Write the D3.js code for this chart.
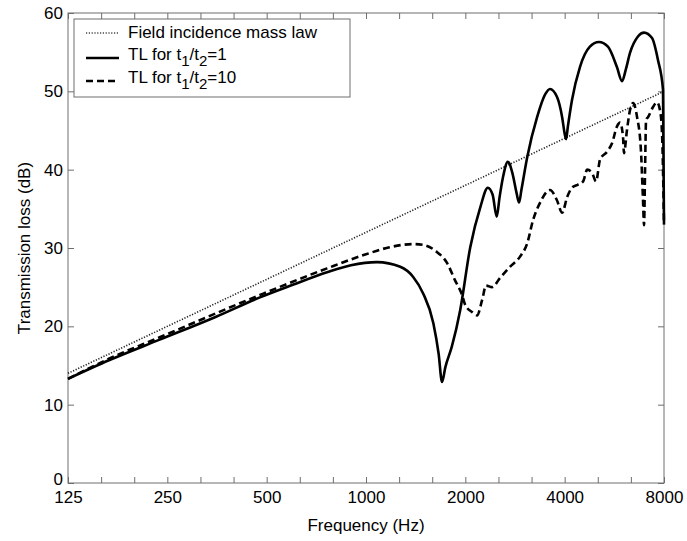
<!DOCTYPE html>
<html>
<head>
<meta charset="utf-8">
<script src="https://cdn.jsdelivr.net/npm/d3@7"></script>
<style>
  body { margin: 0; background: #fff; }
  svg { font-family: "Liberation Sans", Arial, sans-serif; }
</style>
</head>
<body>
<script>
// octave tick labels and 1/3-octave tick positions
const octaveLabels = ["125", "250", "500", "1000", "2000", "4000", "8000"];
const thirdOctaveTicks = d3.range(0, 19).map(k => 125 * Math.pow(2, k / 3));
const yTicks = [0, 10, 20, 30, 40, 50, 60];

// field incidence mass law
const massFreq = [125, 250, 500, 1000, 2000, 4000, 8000];
const massTL = [14, 20, 26, 32, 38, 44, 50];

// TL for t1/t2 = 1
const freq1 = [125, 167, 237, 350, 477, 600, 762, 900, 1080, 1270, 1390, 1490, 1600, 1660, 1700, 1740,
  1820, 1930, 2070, 2220, 2340, 2420, 2490, 2540, 2600, 2690, 2780, 2860, 2910, 2960, 3080, 3300,
  3490, 3610, 3790, 3930, 4000, 4040, 4090, 4210, 4450, 4770, 5080, 5410, 5760, 5970, 6130, 6310,
  6670, 6960, 7360, 7670, 7945, 8000];
const tl1 = [13.3, 15.7, 18.3, 21.2, 23.7, 25.3, 26.9, 27.8, 28.2, 27.6, 26.3, 24.2, 20.4, 16.5, 12.9, 14.8,
  17.4, 22.1, 30.1, 35.2, 37.7, 36.8, 34.0, 36.5, 39.0, 41.0, 39.5, 37.0, 35.8, 37.5, 41.6, 46.7,
  49.6, 50.3, 49.3, 46.7, 44.6, 43.9, 45.5, 48.9, 53.1, 55.7, 56.3, 55.7, 53.1, 51.3, 52.8, 54.9,
  57.0, 57.5, 56.8, 54.0, 50.2, 33.0];

// TL for t1/t2 = 10
const freq10 = [125, 167, 237, 477, 762, 1000, 1180, 1390, 1490, 1640, 1760, 1860, 1955, 2000, 2100, 2170,
  2250, 2310, 2410, 2550, 2730, 2930, 3080, 3210, 3370, 3610, 3790, 3930, 4070, 4210, 4390, 4550,
  4680, 4840, 4980, 5120, 5380, 5570, 5760, 5890, 6010, 6050, 6180, 6310, 6450, 6630, 6810, 6910,
  6960, 7010, 7060, 7155, 7410, 7620, 7780, 7890, 8000];
const tl10 = [13.3, 15.9, 18.6, 24.0, 27.4, 29.2, 30.1, 30.5, 30.4, 29.5, 28.1, 25.9, 24.0, 22.7, 21.8, 21.4,
  23.4, 25.2, 25.0, 26.2, 27.6, 28.9, 30.6, 33.6, 35.8, 37.4, 36.1, 34.5, 36.5, 37.7, 38.1, 38.5,
  40.0, 39.6, 38.5, 41.3, 42.3, 43.4, 45.5, 46.0, 44.2, 42.1, 45.1, 47.6, 48.5, 46.7, 42.5, 36.1,
  32.9, 40.0, 46.4, 46.7, 48.0, 48.6, 47.6, 44.7, 33.0];

var width = 687,
  height = 541;
var plotL = 68, plotR = 664, plotT = 13, plotB = 483;
const frameColor = "#6e6e6e";

var svg = d3.select("body").append("svg")
  .attr("width", width)
  .attr("height", height);

var xScale = d3.scaleLog().domain([125, 8000]).range([plotL, plotR]);
var yScale = d3.scaleLinear().domain([0, 60]).range([plotB, plotT]);

var fmtX = d => {
  var i = octaveLabels.indexOf(String(Math.round(d)));
  return i >= 0 ? octaveLabels[i] : "";
};

// frame
svg.append("rect")
  .attr("x", plotL).attr("y", plotT)
  .attr("width", plotR - plotL).attr("height", plotB - plotT)
  .attr("fill", "none").attr("stroke", frameColor).attr("stroke-width", 1);

var xAxis = svg.append("g")
  .attr("transform", `translate(0,${plotB})`)
  .call(d3.axisBottom(xScale).tickValues(thirdOctaveTicks).tickFormat(fmtX)
    .tickSizeInner(-6).tickSizeOuter(0).tickPadding(8));

var xAxisTop = svg.append("g")
  .attr("transform", `translate(0,${plotT})`)
  .call(d3.axisTop(xScale).tickValues(thirdOctaveTicks).tickFormat("")
    .tickSizeInner(-6).tickSizeOuter(0));

var yAxis = svg.append("g")
  .attr("transform", `translate(${plotL},0)`)
  .call(d3.axisLeft(yScale).tickValues(yTicks).tickFormat(d3.format("d"))
    .tickSizeInner(-6).tickSizeOuter(0).tickPadding(5));

var yAxisRight = svg.append("g")
  .attr("transform", `translate(${plotR},0)`)
  .call(d3.axisRight(yScale).tickValues(yTicks).tickFormat("")
    .tickSizeInner(-6).tickSizeOuter(0));

[xAxis, xAxisTop, yAxis, yAxisRight].forEach(g => {
  g.select(".domain").remove();
  g.selectAll(".tick line").attr("stroke", frameColor);
  g.selectAll("text").attr("fill", "#000").style("font-size", "17px")
    .style("font-family", '"Liberation Sans", Arial, sans-serif');
});

// lift the "0" label a little so it clears "125"
yAxis.selectAll(".tick text").filter(d => d === 0).attr("dy", "0.1em");

// curves
var line = d3.line()
  .x(d => xScale(d[0]))
  .y(d => yScale(d[1]))
  .curve(d3.curveMonotoneX);

svg.append("path")
  .datum(massFreq.map((f, i) => [f, massTL[i]]))
  .attr("d", d3.line().x(d => xScale(d[0])).y(d => yScale(d[1])))
  .attr("fill", "none")
  .attr("stroke", "#222")
  .attr("stroke-width", 1.6)
  .attr("stroke-dasharray", "1.2,1.6");

svg.append("path")
  .datum(freq10.map((f, i) => [f, tl10[i]]))
  .attr("d", line)
  .attr("fill", "none")
  .attr("stroke", "#000")
  .attr("stroke-width", 2.6)
  .attr("stroke-dasharray", "7,4");

svg.append("path")
  .datum(freq1.map((f, i) => [f, tl1[i]]))
  .attr("d", line)
  .attr("fill", "none")
  .attr("stroke", "#000")
  .attr("stroke-width", 2.6);

// legend
var legend = svg.append("g");
legend.append("rect")
  .attr("x", 74).attr("y", 19)
  .attr("width", 276).attr("height", 78)
  .attr("fill", "#fff")
  .attr("stroke", frameColor)
  .attr("stroke-width", 1);

var items = [
  { y: 33, dash: "1.2,1.6", w: 1.4, color: "#444", label: "Field incidence mass law", base: 38 },
  { y: 58, dash: null, w: 2.6, color: "#000", sub: ["1", "2"], tail: "=1", base: 60 },
  { y: 81, dash: "7,4", w: 2.6, color: "#000", sub: ["1", "2"], tail: "=10", base: 83 }
];

items.forEach(it => {
  legend.append("line")
    .attr("x1", 86).attr("x2", 119)
    .attr("y1", it.y).attr("y2", it.y)
    .attr("stroke", it.color)
    .attr("stroke-width", it.w)
    .attr("stroke-dasharray", it.dash);
  var t = legend.append("text")
    .attr("x", 128).attr("y", it.base)
    .style("font-size", "17px")
    .attr("fill", "#000");
  if (it.label) {
    t.text(it.label);
  } else {
    t.append("tspan").text("TL for t");
    t.append("tspan").text(it.sub[0]).attr("dy", 6).style("font-size", "15px");
    t.append("tspan").text("/t").attr("dy", -6);
    t.append("tspan").text(it.sub[1]).attr("dy", 6).style("font-size", "15px");
    t.append("tspan").text(it.tail).attr("dy", -6);
  }
});

// axis titles
svg.append("text")
  .text("Frequency (Hz)")
  .attr("x", (plotL + plotR) / 2)
  .attr("y", 531)
  .attr("text-anchor", "middle")
  .style("font-size", "17px");

svg.append("text")
  .text("Transmission loss (dB)")
  .attr("transform", `translate(30,${(plotT + plotB) / 2}) rotate(-90)`)
  .attr("text-anchor", "middle")
  .style("font-size", "17px");
</script>
</body>
</html>
